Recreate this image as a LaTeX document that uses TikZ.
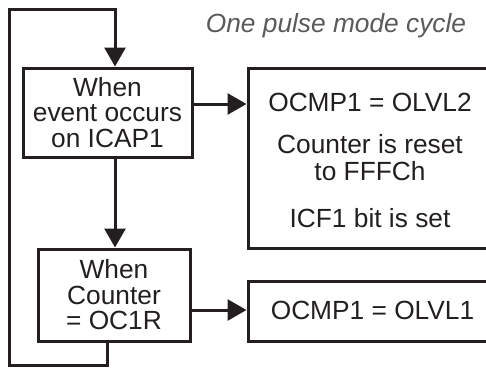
\documentclass[tikz,border=0pt]{standalone}
\usepackage{fontspec}
\setmainfont{Liberation Sans}
\usetikzlibrary{arrows.meta}
\definecolor{txt}{HTML}{231F20}
\definecolor{ttl}{HTML}{5A5A5A}
\begin{document}
\begin{tikzpicture}[x=1pt,y=-1pt, line width=3pt, draw=txt,
  box/.style={draw=txt, rectangle, inner sep=0pt, align=center,
    font=\fontsize{26.3}{25.5}\selectfont, text=txt},
  lbl/.style={anchor=base, inner sep=0pt, font=\fontsize{26.3}{25.5}\selectfont, text=txt},
  arr/.style={-{Triangle[length=19pt,width=21pt]}}]
\useasboundingbox (0,0) rectangle (486,367);
\clip (0,0) rectangle (486,367);

\node[box, minimum width=169pt, minimum height=89pt] (b1) at (107.5,112.5)
  {When\\event occurs\\on ICAP1};
\node[box, minimum width=152pt, minimum height=92pt] (b3) at (114,295)
  {When\\Counter\\= OC1R};
\node[box, minimum width=252pt, minimum height=180pt] (b2) at (374,158) {};
\node[box, minimum width=252pt, minimum height=60pt] (b4) at (374,311) {};

\node[lbl] (t2a) at (370,111) {OCMP1 = OLVL2};
\node[lbl] (t2b) at (370,153) {Counter is reset};
\node[lbl] (t2c) at (370,180) {to FFFCh};
\node[lbl] (t2d) at (370,227) {ICF1 bit is set};
\node[lbl] (t4) at (372.5,319) {OCMP1 = OLVL1};

\node[lbl, text=ttl, font=\fontsize{26.3}{25.5}\selectfont\itshape] (title) at (336,32)
  {One pulse mode cycle};

\coordinate (tl) at (9,9);
\coordinate (bl) at (9,365);
\coordinate (c1) at (115,0);
\coordinate (c3) at (107,0);
\coordinate (a1) at (0,104);
\coordinate (a3) at (0,310);

\draw[arr] (b3.south -| c3) -- (c3 |- bl) -- (bl) -- (tl) -- (tl -| c1) -- (b1.north -| c1);
\draw[arr] (b1.south -| c1) -- (b3.north -| c1);
\draw[arr] (b1.east |- a1) -- (b2.west |- a1);
\draw[arr] (b3.east |- a3) -- (b4.west |- a3);
\end{tikzpicture}
\end{document}
